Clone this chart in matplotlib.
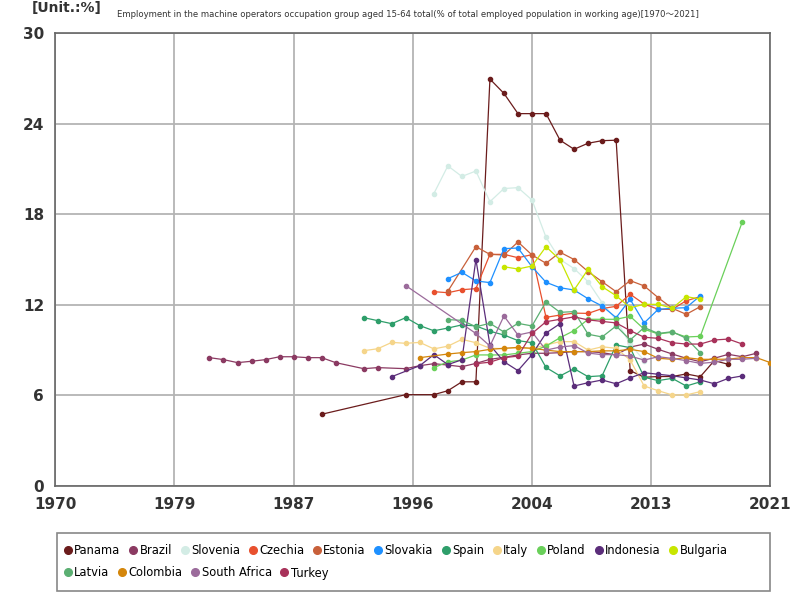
import matplotlib
matplotlib.use('Agg')
import matplotlib.pyplot as plt
from matplotlib.lines import Line2D
from matplotlib.patches import Rectangle

plt.rcParams['font.family'] = ['DejaVu Sans', 'Noto Sans CJK JP']

# data
panama_years = [1989, 1995, 1997, 1998, 1999, 2000] + list(range(2001, 2019))
panama = [4.75, 6.05, 6.05, 6.31, 6.9, 6.9,
          26.95, 26.0, 24.66, 24.66, 24.66, 22.9, 22.3, 22.7, 22.87, 22.9,
          7.64, 7.2, 7.25, 7.25, 7.42, 7.24, 8.3, 8.06]

brazil_years = [1981, 1982, 1983, 1984, 1985, 1986, 1987, 1988, 1989, 1990,
                1992, 1993, 1995, 1996, 1997] + list(range(1998, 2021))
brazil = [8.5, 8.37, 8.17, 8.26, 8.37, 8.56, 8.56, 8.5, 8.5, 8.17,
          7.77, 7.84, 7.77, 7.97, 8.1,
          8.01, 7.9, 8.12, 8.39, 8.52, 8.68, 8.79, 8.79, 8.83, 8.9, 8.9, 8.83, 8.68,
          9.2, 9.4, 9.05, 8.74, 8.46, 8.23, 8.46, 8.72, 8.56, 8.79]

slovenia_years = list(range(1997, 2013))
slovenia = [19.36, 21.2, 20.5, 20.86, 18.83, 19.7, 19.76, 18.94, 16.47, 15.0,
            14.4, 13.53, 12.14, 11.0, 9.4, 8.3]

czechia_years = list(range(1997, 2017))
czechia = [12.87, 12.8, 13.0, 13.07, 15.34, 15.34, 15.12, 15.32, 11.17, 11.32,
           11.45, 11.43, 11.75, 11.9, 12.7, 12.05, 11.7, 11.7, 12.27, 12.54]

estonia_years = [1998] + list(range(2000, 2017))
estonia = [12.9, 15.85, 15.34, 15.3, 16.16, 15.3, 14.75, 15.48, 15.0, 14.2,
           13.53, 12.87, 13.6, 13.25, 12.47, 11.77, 11.37, 11.88]

slovakia_years = list(range(1998, 2017))
slovakia = [13.73, 14.15, 13.58, 13.47, 15.72, 15.76, 14.52, 13.49, 13.13, 12.98,
            12.4, 11.92, 11.15, 12.36, 10.8, 11.7, 11.77, 11.81, 12.6]

spain_years = list(range(1992, 2017))
spain = [11.15, 10.95, 10.75, 11.15, 10.62, 10.28, 10.46, 10.67, 10.6, 10.25,
         10.0, 9.63, 9.49, 7.85, 7.29, 7.77, 7.24, 7.3, 9.34, 9.16,
         7.2, 6.98, 7.13, 6.62, 6.9]

italy_years = list(range(1992, 2017))
italy = [8.96, 9.09, 9.51, 9.45, 9.51, 9.08, 9.26, 9.71, 9.49, 9.12,
         9.1, 9.15, 9.1, 9.34, 9.56, 9.56, 9.0, 9.22, 9.12, 8.34,
         6.62, 6.31, 6.03, 6.03, 6.25]

poland_years = list(range(1997, 2017)) + [2019]
poland = [7.84, 8.22, 8.34, 8.68, 8.68, 8.68, 8.79, 8.9, 9.27, 9.82,
          10.29, 11.04, 11.04, 11.04, 11.24, 10.38, 10.07, 10.18, 9.87, 9.91, 17.5]

indonesia_years = [1994] + list(range(1996, 2020))
indonesia = [7.24, 7.97, 8.7, 8.04, 8.36, 15.0, 9.34, 8.23, 7.64, 8.7,
             10.13, 10.75, 6.62, 6.84, 7.02, 6.77, 7.16, 7.5, 7.4, 7.3,
             7.16, 7.02, 6.77, 7.13, 7.29]

bulgaria_years = list(range(2002, 2017))
bulgaria = [14.52, 14.37, 14.57, 15.85, 14.97, 12.98, 14.35, 13.2, 12.6, 11.81,
            12.03, 12.03, 11.77, 12.54, 12.38]

latvia_years = list(range(1998, 2017))
latvia = [11.02, 10.97, 10.55, 10.77, 10.2, 10.77, 10.6, 12.2, 11.5, 11.55,
          10.05, 9.87, 10.6, 9.67, 10.5, 10.1, 10.22, 9.78, 8.83]

colombia_years = [1996] + list(range(1998, 2022))
colombia = [8.5, 8.74, 8.83, 8.9, 9.05, 9.12, 9.18, 9.12, 9.0, 8.9,
            8.9, 8.9, 8.95, 8.95, 9.05, 8.9, 8.46, 8.39, 8.5, 8.39,
            8.39, 8.4, 8.5, 8.5, 8.17]

south_africa_years = [1995] + list(range(2000, 2021))
south_africa = [13.27, 10.1, 9.27, 11.26, 10.0, 10.2, 9.0, 9.2, 9.3, 8.8,
                8.7, 8.7, 8.6, 8.34, 8.56, 8.45, 8.3, 8.12, 8.2, 8.39, 8.39, 8.46]

turkey_years = list(range(2000, 2020))
turkey = [8.1, 8.2, 8.5, 8.6, 10.1, 10.88, 11.04, 11.2, 11.0, 10.9,
          10.8, 10.29, 9.85, 9.78, 9.49, 9.4, 9.4, 9.67, 9.73, 9.4]

series = [
    ('Panama', panama_years, panama, '#6b1c1c'),
    ('Brazil', brazil_years, brazil, '#8b3a62'),
    ('Slovenia', slovenia_years, slovenia, '#d3ece5'),
    ('Czechia', czechia_years, czechia, '#e8502e'),
    ('Estonia', estonia_years, estonia, '#c8603a'),
    ('Slovakia', slovakia_years, slovakia, '#1e90ff'),
    ('Spain', spain_years, spain, '#2e9e6a'),
    ('Italy', italy_years, italy, '#f5d58a'),
    ('Poland', poland_years, poland, '#6ad05a'),
    ('Indonesia', indonesia_years, indonesia, '#5b2d7a'),
    ('Bulgaria', bulgaria_years, bulgaria, '#c8e600'),
    ('Latvia', latvia_years, latvia, '#5baf72'),
    ('Colombia', colombia_years, colombia, '#d4860b'),
    ('South Africa', south_africa_years, south_africa, '#9b6b9b'),
    ('Turkey', turkey_years, turkey, '#a8325a'),
]

x_ticks = [1970, 1978.5, 1987, 1995.5, 2004, 2012.5, 2021]
x_labels = ['1970', '1979', '1987', '1996', '2004', '2013', '2021']
y_ticks = [0, 6, 12, 18, 24, 30]

fig = plt.figure(figsize=(8, 6), dpi=100)
ax = fig.add_axes([0.069, 0.19, 0.894, 0.755])

for name, yrs, vals, col in series:
    ax.plot(yrs, vals, color=col, lw=0.9, marker='o', ms=3, label=name, zorder=3)

ax.set_xlim(1970, 2021)
ax.set_ylim(0, 30)
ax.set_xticks(x_ticks)
ax.set_xticklabels(x_labels)
ax.set_yticks(y_ticks)
ax.grid(True, color='#b4b4b4', lw=1.3)
ax.tick_params(length=0, labelsize=11, pad=8)
for lab in ax.get_xticklabels() + ax.get_yticklabels():
    lab.set_fontweight('bold')
    lab.set_color('#333333')
for sp in ax.spines.values():
    sp.set_color('#666666')
    sp.set_linewidth(1.2)

fig.text(0.51, 0.976, 'Employment in the machine operators occupation group aged 15-64 total(% of total employed population in working age)[1970～2021]',
         ha='center', va='center', fontsize=6.1, color='#333333')
fig.text(0.04, 0.987, '[Unit.:%]', ha='left', va='center', fontsize=10, fontweight='bold', color='#333333')

# legend in two rows, like the reference
handles = [Line2D([], [], ls='none', marker='o', ms=5.5, color=c) for _, _, _, c in series]
names = [s[0] for s in series]
kw = dict(frameon=False, fontsize=8.3, handletextpad=0.05, columnspacing=0.6,
          handlelength=1.0, borderaxespad=0, loc='center left')
fig.legend(handles[:11], names[:11], ncol=11, bbox_to_anchor=(0.072, 0.082), **kw)
fig.legend(handles[11:], names[11:], ncol=4, bbox_to_anchor=(0.072, 0.045), **kw)
fig.patches.append(Rectangle((0.071, 0.015), 0.891, 0.097, transform=fig.transFigure,
                             fill=False, edgecolor='#888888', lw=1.2))

plt.savefig('out.png', dpi=100)
